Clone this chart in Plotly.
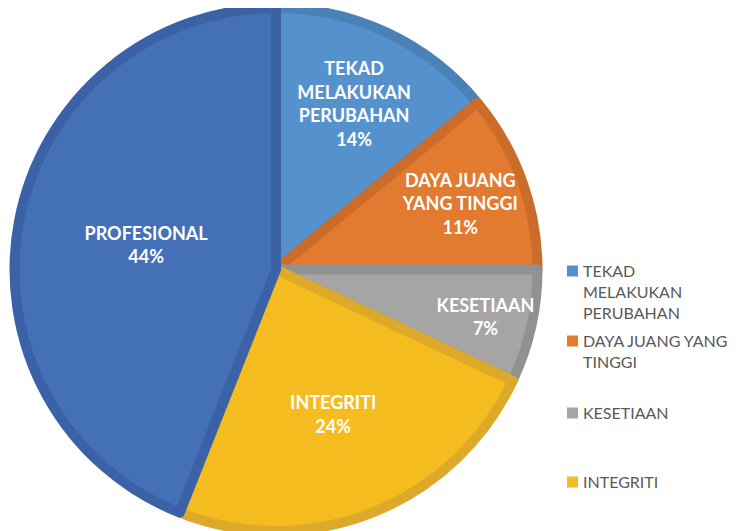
import plotly.graph_objects as go

# slice data (clockwise from the top)
labels = ["TEKAD MELAKUKAN PERUBAHAN", "DAYA JUANG YANG TINGGI", "KESETIAAN", "INTEGRITI", "PROFESIONAL"]
wrapped = ["TEKAD<br>MELAKUKAN<br>PERUBAHAN", "DAYA JUANG<br>YANG TINGGI", "KESETIAAN", "INTEGRITI", "PROFESIONAL"]
legend_text = ["TEKAD<br>MELAKUKAN<br>PERUBAHAN", "DAYA JUANG YANG<br>TINGGI", "KESETIAAN", "INTEGRITI"]
values = [14, 11, 7, 24, 44]

fills = ["#5592CD", "#E27A30", "#A5A5A5", "#F5BC1F", "#4470B8"]
rims = ["#4A82B8", "#CC6C2A", "#919191", "#DDA928", "#3B62A6"]

# page body adds an 8px margin, so the figure is a little smaller than the window
W, H = 734, 523
OFF = 8

fig = go.Figure(go.Pie(
    labels=labels,
    values=values,
    text=wrapped,
    sort=False,
    direction="clockwise",
    rotation=0,
    marker=dict(colors=fills, line=dict(color=rims, width=10)),
    texttemplate="<b>%{text}<br>%{percent:.0%}</b>",
    textposition="inside",
    insidetextorientation="horizontal",
    insidetextfont=dict(color="white", size=18, family="Lato"),
    hoverinfo="label+percent",
    showlegend=False,
    domain=dict(x=[0.0089, 0.7214], y=[0, 1]),
))

# manual legend (only four entries are visible in the original)
legend_y = [271, 341, 413, 482]
for name, color, y in zip(legend_text, fills, legend_y):
    yy = y - OFF
    fig.add_shape(type="rect", xref="paper", yref="paper",
                  x0=(567 - OFF) / W, x1=(578 - OFF) / W,
                  y0=1 - (yy + 5.5) / H, y1=1 - (yy - 5.5) / H,
                  fillcolor=color, line=dict(width=0))
    fig.add_annotation(x=(581 - OFF) / W, y=1 - (yy - 12) / H, xref="paper", yref="paper",
                       xanchor="left", yanchor="top", align="left",
                       text=name, showarrow=False,
                       font=dict(family="Lato", size=16, color="#595959"))

fig.update_layout(
    width=W, height=H,
    margin=dict(l=0, r=0, t=0, b=0),
    paper_bgcolor="white",
    plot_bgcolor="white",
    uniformtext=dict(minsize=18, mode="show"),
)

fig.write_html("out.html")
